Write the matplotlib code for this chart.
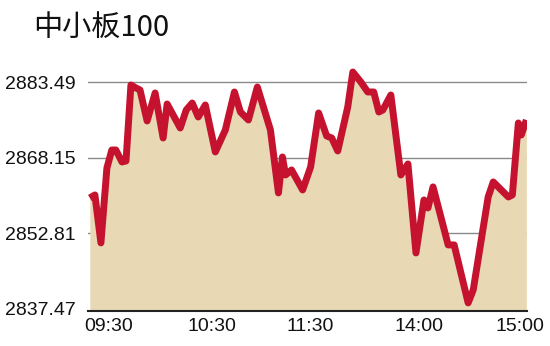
import matplotlib.pyplot as plt

# minutes of trading since 09:30 (lunch break removed) and index level
minutes = [0, 2.8, 6.1, 9.4, 12.1, 14.3, 17.7, 19.9, 22.6, 25.4, 27.6, 31.5,
           35.9, 40.3, 42.5, 49.7, 53.0, 56.3, 59.6, 63.5, 69.0, 74.5, 79.5,
           82.8, 87.2, 92.1, 99.3, 103.7, 105.9, 107.6, 110.9, 117.0, 121.4,
           125.8, 130.2, 133.0, 136.3, 141.8, 144.6, 149.0, 152.8, 156.1,
           158.9, 161.1, 165.5, 171.0, 174.9, 179.3, 183.7, 185.9, 188.7,
           197.0, 200.3, 208.0, 210.8, 219.0, 221.8, 230.1, 232.3, 235.6,
           237.2, 240]
values = [2859.98, 2860.59, 2850.84, 2866.08, 2869.73, 2869.73, 2867.29,
          2867.50, 2882.94, 2882.33, 2881.93, 2875.63, 2881.32, 2872.17,
          2879.08, 2874.20, 2877.86, 2879.28, 2876.44, 2878.88, 2869.33,
          2873.80, 2881.52, 2877.45, 2875.83, 2882.53, 2873.80, 2861.00,
          2868.31, 2864.65, 2865.67, 2861.61, 2866.28, 2877.25, 2872.58,
          2872.17, 2869.53, 2878.47, 2885.58, 2883.55, 2881.52, 2881.52,
          2877.45, 2877.86, 2880.91, 2864.65, 2866.89, 2848.80, 2859.57,
          2857.95, 2862.22, 2850.43, 2850.43, 2838.64, 2841.29, 2860.18,
          2863.23, 2860.18, 2860.59, 2875.22, 2872.78, 2875.83]

y_ticks = [2837.47, 2852.81, 2868.15, 2883.49]
x_tick_pos = [10.5, 67.3, 121.4, 181.0, 236.7]
x_tick_labels = ["09:30", "10:30", "11:30", "14:00", "15:00"]

fig = plt.figure(figsize=(5.5, 3.46), dpi=100)
ax = fig.add_axes([0.16, 0.1012, 0.798, 0.708])

y_low, y_high = 2837.0, 2886.8

# gridlines sit behind the filled area
for y in y_ticks[1:]:
    ax.axhline(y, color="#8a8a8a", lw=1.0, zorder=1)

ax.fill_between(minutes, values, y_low, color="#e8d8b4", lw=0, zorder=2)
ax.plot(minutes, values, color="#c4122f", lw=5, solid_joinstyle="round",
        solid_capstyle="butt", zorder=3)

ax.set_xlim(-1, 240.3)
ax.set_ylim(y_low, y_high)

ax.set_yticks(y_ticks)
ax.set_yticklabels([f"{v:.2f}" for v in y_ticks])
ax.set_xticks(x_tick_pos)
ax.set_xticklabels(x_tick_labels)
ax.tick_params(axis="both", length=0, labelsize=14, colors="#111111")
ax.tick_params(axis="y", pad=9)
ax.tick_params(axis="x", pad=5)
for lab in ax.get_xticklabels() + ax.get_yticklabels():
    lab.set_fontfamily("Liberation Sans")

for side in ["left", "right", "top"]:
    ax.spines[side].set_visible(False)
ax.spines["bottom"].set_color("#222222")
ax.spines["bottom"].set_linewidth(1.5)
ax.spines["bottom"].set_zorder(4)

fig.text(0.06, 0.918, "中小板100", fontsize=21, va="center", ha="left",
         family=["Noto Sans CJK SC", "DejaVu Sans"], color="#111111")

fig.savefig("out.png", dpi=100)
